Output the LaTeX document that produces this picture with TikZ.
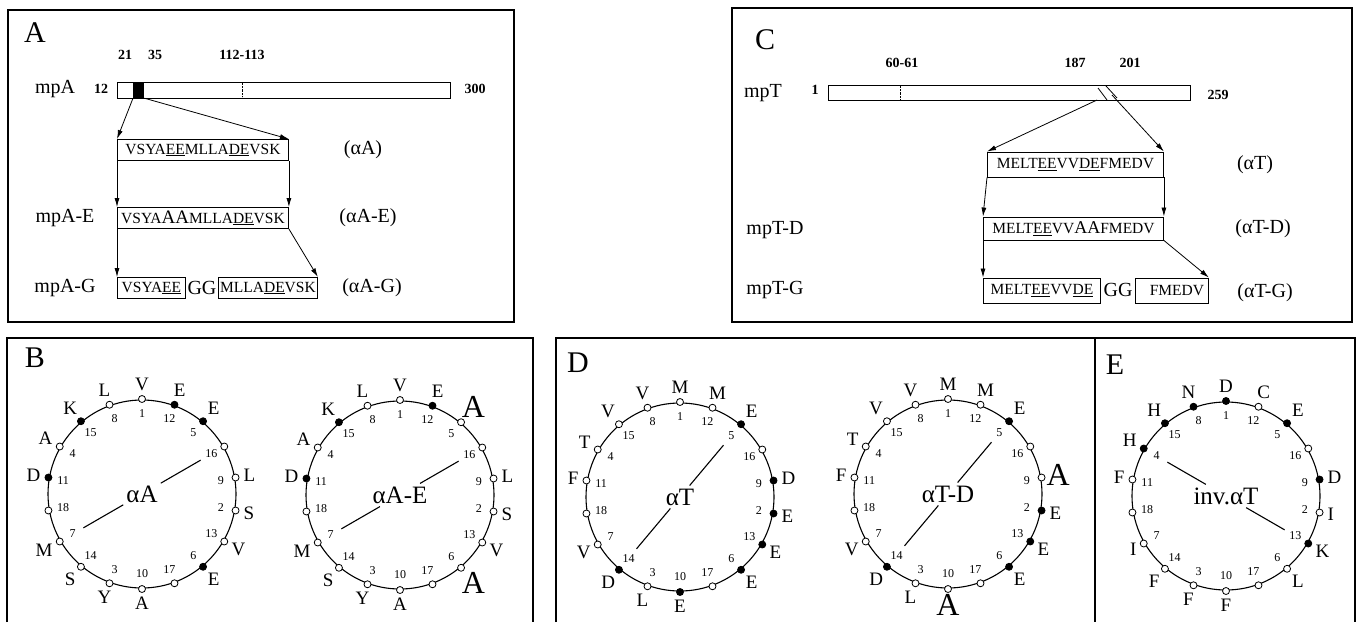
\documentclass[tikz,border=0pt]{standalone}
\usepackage{fontspec}
\setmainfont{Liberation Serif}
\usetikzlibrary{arrows.meta}
\newcommand\fs[1]{\fontsize{#1}{#1}\selectfont}
\newcommand\uln[1]{\underline{#1}}
\def\WR{94}
\def\disto{8}\def\distf{8}\def\distb{5}
\tikzset{
 panel/.style={line width=1.1pt},
 plab/.style={font=\fs{30}, inner sep=0},
 tick/.style={font=\fs{14}\bfseries, inner sep=0},
 gene/.style={font=\fs{20}, inner sep=0},
 seqbox/.style={draw, line width=0.9pt, font=\fs{15.5}, inner sep=0, minimum height=21pt},
 bar/.style={draw, line width=0.9pt, inner sep=0, anchor=west},
 arr/.style={-{Latex[length=9pt,width=5pt]}, line width=0.8pt},
 mko/.style={circle, draw, fill=white, inner sep=0, minimum size=7pt, line width=0.8pt},
 mkf/.style={mko, fill=black},
 mkb/.style={mko},
 lbo/.style={font=\fs{19}, inner sep=1pt},
 lbf/.style={lbo},
 lbb/.style={font=\fs{32}, inner sep=1pt},
 num/.style={font=\fs{12}, inner sep=0},
 ctr/.style={font=\fs{25}, inner sep=3pt, fill=white},
 wheel/.style={line width=1.1pt},
}
\newcommand\hwheel[6]{%
\begin{scope}[shift={(#1)}, y=1pt]
\draw[wheel] (0,0) circle (\WR);
\node[ctr] (#2c) at (0,0) {#4};
\coordinate (#2e1) at ({#5}:{0.72*\WR});
\coordinate (#2e2) at ({#6}:{0.72*\WR});
\draw[wheel] (#2c) -- (#2e1);
\draw[wheel] (#2c) -- (#2e2);
\foreach \wn/\wl/\wf in {#3}{%
 \pgfmathtruncatemacro\wa{mod(90-(\wn-1)*100+3600,360)}%
 \pgfmathtruncatemacro\wb{mod(\wa+180,360)}%
 \edef\dtmp{\csname dist\wf\endcsname}%
 \node[mk\wf] (#2m\wn) at ({\wa}:{\WR+1}) {};
 \node[lb\wf, anchor=\wb] (#2l\wn) at ({\wa}:{\WR+\dtmp}) {\wl};
 \node[num] (#2n\wn) at ({\wa}:{\WR-14}) {\wn};
}
\end{scope}}
\begin{document}
\begin{tikzpicture}[x=1pt,y=-1pt]
\useasboundingbox (0,0) rectangle (1358,622);
% ---------- Panel A ----------
\draw[panel] (8,10) rectangle (514,322);
\node[plab] (pA) at (35,33) {A};
\node[tick] (t21) at (125,55) {21};
\node[tick] (t35) at (155,55) {35};
\node[tick] (t112) at (242,55) {112-113};
\node[gene] (gA) at (55,89) {mpA};
\node[tick] (s12) at (101,89) {12};
\node[bar, minimum width=333pt, minimum height=16pt] (barA) at (117,90) {};
\node[fill=black, inner sep=0, minimum width=11pt, minimum height=16pt, anchor=west] (blkA) at (133,90) {};
\draw[densely dotted] (242,83) -- (242,97);
\node[tick] (s300) at (475,89) {300};
\node[seqbox, minimum width=171pt, anchor=west] (sA) at (117,150) {VSYA\uln{EE}MLLA\uln{DE}VSK};
\node[seqbox, minimum width=171pt, anchor=west] (sAE) at (117,218) {VSYA{\fs{19}AA}MLLA\uln{DE}VSK};
\node[seqbox, minimum width=68pt, anchor=west] (sAG1) at (117,288) {VSYA\uln{EE}};
\node[gene] (ggA) at (202,288) {GG};
\node[seqbox, minimum width=99pt, anchor=west] (sAG2) at (218,288) {MLLA\uln{DE}VSK};
\draw[arr] (blkA.south west) -- (sA.north west);
\draw[arr] (blkA.south east) -- (sA.north east);
\draw[arr] (sA.south west) -- (sAE.north west);
\draw[arr] (sA.south east) -- (sAE.north east);
\draw[arr] (sAE.south west) -- (sAG1.north west);
\draw[arr] (sAE.south east) -- (sAG2.north east);
\node[gene] (lA) at (363,150) {(αA)};
\node[gene] (gAE) at (65,218) {mpA-E};
\node[gene] (lAE) at (368,218) {(αA-E)};
\node[gene] (gAG) at (65,288) {mpA-G};
\node[gene] (lAG) at (372,288) {(αA-G)};
% ---------- Panel C ----------
\draw[panel] (732,8) rectangle (1352,322);
\node[plab] (pC) at (765,40) {C};
\node[tick] (t60) at (902,63) {60-61};
\node[tick] (t187) at (1075,63) {187};
\node[tick] (t201) at (1130,63) {201};
\node[gene] (gT) at (763,93) {mpT};
\node[tick] (s1) at (815,90) {1};
\node[bar, minimum width=362pt, minimum height=15pt] (barT) at (828,92.5) {};
\draw[densely dotted] (900,86) -- (900,99);
\draw[line width=0.8pt] (1098,88) -- (1107,100);
\draw[line width=0.8pt] (1106,86) -- (1117,98);
\coordinate (hT1) at (1097,100);
\coordinate (hT2) at (1112,95);
\node[tick] (s259) at (1218,95) {259};
\node[seqbox, minimum width=176pt, minimum height=25pt, anchor=west] (sT) at (987,164.5) {MELT\uln{EE}VV\uln{DE}FMEDV};
\node[seqbox, minimum width=180pt, minimum height=23pt, anchor=west] (sTD) at (983,228.5) {MELT\uln{EE}VV{\fs{18}AA}FMEDV};
\node[seqbox, minimum width=117pt, minimum height=25pt, anchor=west] (sTG1) at (983,290.5) {MELT\uln{EE}VV\uln{DE}};
\node[gene] (ggT) at (1118,290) {GG};
\node[seqbox, minimum width=73pt, minimum height=25pt, anchor=west] (sTG2) at (1135,290.5) {\hspace{10pt}FMEDV};
\draw[arr] (hT1) -- (sT.north west);
\draw[arr] (hT2) -- (sT.north east);
\draw[arr] (sT.south west) -- (sTD.north west);
\draw[arr] (sT.south east) -- (sTD.north east);
\draw[arr] (sTD.south west) -- (sTG1.north west);
\draw[arr] (sTD.south east) -- (sTG2.north east);
\node[gene] (lT) at (1255,165) {(αT)};
\node[gene] (gTD) at (775,230) {mpT-D};
\node[gene] (lTD) at (1263,229) {(αT-D)};
\node[gene] (gTG) at (775,290) {mpT-G};
\node[gene] (lTG) at (1265,293) {(αT-G)};
% ---------- Bottom panels ----------
\draw[panel] (7,622) -- (7,338) -- (533,338) -- (533,622);
\draw[panel] (556,622) -- (556,338) -- (1355,338) -- (1355,622);
\draw[panel] (1095,338) -- (1095,622);
\node[plab] (pB) at (35,358) {B};
\node[plab] (pD) at (578,363) {D};
\node[plab] (pE) at (1115,365) {E};
\hwheel{142,494}{wa}{1/V/o,2/S/o,3/Y/o,4/A/o,5/E/f,6/E/f,7/M/o,8/L/o,9/L/o,10/A/o,11/D/f,12/E/f,13/V/o,14/S/o,15/K/f,16/{}/o,17/{}/o,18/{}/o}{αA}{30}{210}
\hwheel{400,495}{wb}{1/V/o,2/S/o,3/Y/o,4/A/o,5/A/b,6/A/b,7/M/o,8/L/o,9/L/o,10/A/o,11/D/f,12/E/f,13/V/o,14/S/o,15/K/f,16/{}/o,17/{}/o,18/{}/o}{αA-E}{30}{210}
\hwheel{680,497}{wc}{1/M/o,2/E/f,3/L/o,4/T/o,5/E/f,6/E/f,7/V/o,8/V/o,9/D/f,10/E/f,11/F/o,12/M/o,13/E/f,14/D/f,15/V/o,16/{}/o,17/{}/o,18/{}/o}{αT}{50}{230}
\hwheel{948,494}{wd}{1/M/o,2/E/f,3/L/o,4/T/o,5/E/f,6/E/f,7/V/o,8/V/o,9/A/b,10/A/b,11/F/o,12/M/o,13/E/f,14/D/f,15/V/o,16/{}/o,17/{}/o,18/{}/o}{αT-D}{50}{230}
\hwheel{1226,496}{we}{1/D/f,2/I/o,3/F/o,4/H/f,5/E/f,6/L/o,7/I/o,8/N/f,9/D/f,10/F/o,11/F/o,12/C/o,13/K/f,14/F/o,15/H/f,16/{}/o,17/{}/o,18/{}/o}{inv.αT}{150}{330}
\end{tikzpicture}
\end{document}
